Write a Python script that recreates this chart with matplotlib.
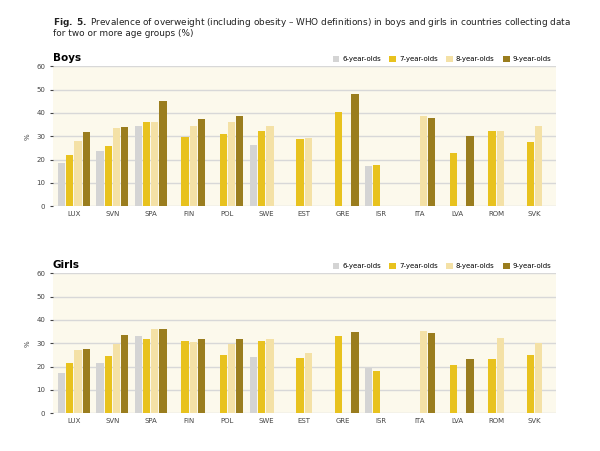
import numpy as np
import matplotlib.pyplot as plt

nan = np.nan
paises = ['LUX', 'SVN', 'SPA', 'FIN', 'POL', 'SWE', 'EST', 'GRE', 'ISR', 'ITA', 'LVA', 'ROM', 'SVK']
idades = ['6-year-olds', '7-year-olds', '8-year-olds', '9-year-olds']

boys_6 = [18.5, 23.7, 34.5, nan, nan, 26.3, nan, nan, 17.3, nan, nan, nan, nan]
boys_7 = [22.0, 26.0, 36.0, 29.5, 30.8, 32.2, 29.0, 40.5, 17.8, nan, 22.8, 32.2, 27.5]
boys_8 = [28.0, 33.5, 36.0, 34.5, 36.2, 34.5, 29.2, nan, nan, 38.5, nan, 32.3, 34.5]
boys_9 = [32.0, 34.0, 45.0, 37.5, 38.5, nan, nan, 48.0, nan, 37.8, 30.0, nan, nan]

girls_6 = [17.3, 21.6, 33.0, nan, nan, 24.0, nan, nan, 19.3, nan, nan, nan, nan]
girls_7 = [21.5, 24.6, 31.8, 31.0, 25.0, 31.0, 23.8, 33.0, 18.0, nan, 20.8, 23.4, 24.8]
girls_8 = [27.0, 29.5, 36.2, 30.7, 29.8, 31.7, 25.6, nan, nan, 35.4, nan, 32.2, 30.0]
girls_9 = [27.5, 33.6, 36.2, 31.7, 32.0, nan, nan, 34.7, nan, 34.3, 23.2, nan, nan]

cores = ['#d4d4d4', '#e8c21e', '#f4e1a6', '#9a7d1e']

fig = plt.figure(figsize=(6, 4.51), dpi=100)
fig.text(0.088, 0.965, r'$\bf{Fig.\ 5.}$ Prevalence of overweight (including obesity – WHO definitions) in boys and girls in countries collecting data',
         fontsize=6.4, va='top', color='#222222')
fig.text(0.088, 0.935, 'for two or more age groups (%)', fontsize=6.4, va='top', color='#222222')

def painel(ret, titulo, series):
    ax = fig.add_axes(ret)
    ax.set_facecolor('#fcf9ec')
    x = np.arange(len(paises))
    w = 0.215
    for i, (s, c, lab) in enumerate(zip(series, cores, idades)):
        ax.bar(x + (i - 1.5) * w, s, w * 0.88, color=c, label=lab, zorder=3)
    ax.set_xlim(-0.55, len(paises) - 0.45)
    ax.set_ylim(0, 60)
    ax.set_yticks(range(0, 61, 10))
    ax.set_xticks(x)
    ax.set_xticklabels(paises)
    ax.tick_params(labelsize=5, colors='#444444', length=2)
    ax.tick_params(axis='x', length=0)
    ax.yaxis.grid(True, color='#d8d8d8', linewidth=1, zorder=0)
    for sp in ax.spines.values():
        sp.set_visible(False)
    ax.set_ylabel('%', fontsize=5, color='#444444', rotation=90)
    ax.set_title(titulo, loc='left', fontsize=7.5, fontweight='bold', x=0.0, pad=4)
    ax.legend(loc='lower right', bbox_to_anchor=(1.0, 1.0), ncol=4, fontsize=5, frameon=False,
              handlelength=1, handleheight=1, columnspacing=1.2, handletextpad=0.4, borderaxespad=0.2)
    return ax

painel([0.088, 0.543, 0.838, 0.31], 'Boys', [boys_6, boys_7, boys_8, boys_9])
painel([0.088, 0.084, 0.838, 0.31], 'Girls', [girls_6, girls_7, girls_8, girls_9])

fig.savefig('out.png', dpi=100)
